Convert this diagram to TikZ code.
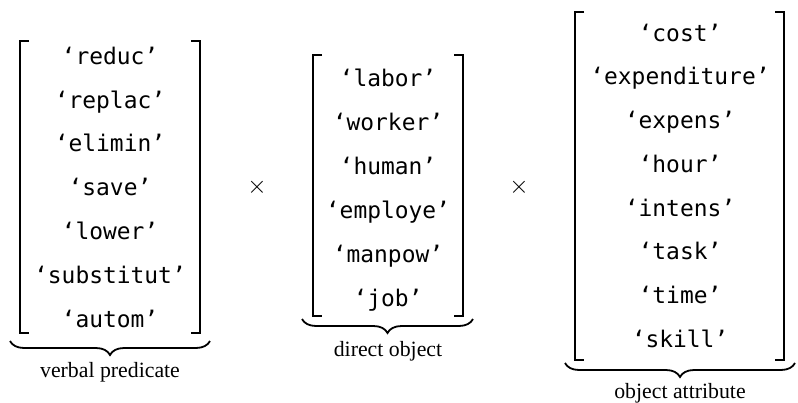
\documentclass[tikz,border=0pt]{standalone}
\usepackage{fontspec}
\setmainfont{Liberation Serif}
\setmonofont{DejaVu Sans Mono}
\usetikzlibrary{decorations.pathreplacing}

\begin{document}
\begin{tikzpicture}[x=1pt, y=-1pt,
    word/.style={font=\ttfamily\fontsize{22.9}{27}\selectfont, anchor=mid, inner sep=0pt},
    tag/.style={font=\fontsize{21.8}{25}\selectfont, anchor=mid, inner sep=0pt},
    cross/.style={font=\fontsize{34}{38}\selectfont, inner sep=0pt},
    bar/.style={line width=1.4pt},
    under/.style={line width=1.8pt, decorate, decoration={brace, amplitude=14pt, mirror}}]

    % Fix the page to the size of the reference (y runs downwards)
    \useasboundingbox (0,0) rectangle (798,402);

    % Verbal predicate: seven stems in square brackets
    \foreach \w [count=\i] in {reduc,replac,elimin,save,lower,substitut,autom}
        \node[word] (verb-\i) at (110, 18.2+43.8*\i) {‘\w’};
    \draw[bar] (29,41) -- (20,41) -- (20,333) -- (29,333);
    \draw[bar] (191,41) -- (200,41) -- (200,333) -- (191,333);
    \draw[under] (10,341) -- (210,341);
    \node[tag] (verb-tag) at (110,375) {verbal predicate};

    % Times sign between the first two lists
    \node[cross] (times-1) at (257,187) {$\times$};

    % Direct object: six stems
    \foreach \w [count=\i] in {labor,worker,human,employe,manpow,job}
        \node[word] (obj-\i) at (388, 40+44*\i) {‘\w’};
    \draw[bar] (322,55) -- (313,55) -- (313,316) -- (322,316);
    \draw[bar] (454,55) -- (463,55) -- (463,316) -- (454,316);
    \draw[under] (302,319) -- (473,319);
    \node[tag] (obj-tag) at (388,354) {direct object};

    % Times sign between the last two lists
    \node[cross] (times-2) at (519,187) {$\times$};

    % Object attribute: eight stems
    \foreach \w [count=\i] in {cost,expenditure,expens,hour,intens,task,time,skill}
        \node[word] (attr-\i) at (680, -4.7+43.7*\i) {‘\w’};
    \draw[bar] (584,12) -- (575,12) -- (575,360) -- (584,360);
    \draw[bar] (775,12) -- (784,12) -- (784,360) -- (775,360);
    \draw[under] (565,363) -- (795,363);
    \node[tag] (attr-tag) at (680,396) {object attribute};

\end{tikzpicture}
\end{document}
